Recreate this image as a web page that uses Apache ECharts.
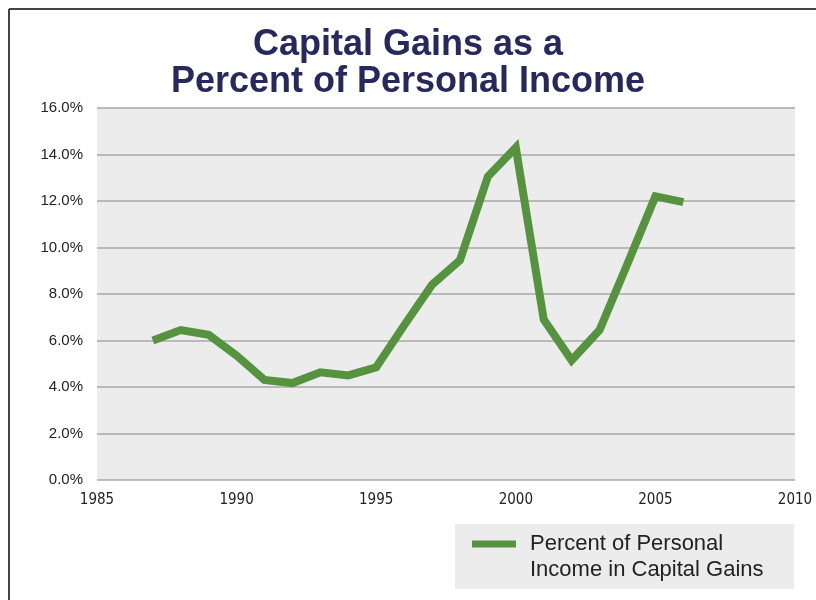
<!DOCTYPE html>
<html>
<head>
<meta charset="utf-8">
<script src="https://cdn.jsdelivr.net/npm/echarts@6/dist/echarts.min.js"></script>
<style>
  html, body { margin: 0; padding: 0; background: #fff; }
  #chart { width: 816px; height: 600px; }
</style>
</head>
<body>
<div id="chart"></div>
<script>
(function(){
	'use strict';

	// 数据
	var years = [1987, 1988, 1989, 1990, 1991, 1992, 1993, 1994, 1995, 1996,
	             1997, 1998, 1999, 2000, 2001, 2002, 2003, 2004, 2005, 2006];
	var gainsPct = [6.0, 6.45, 6.25, 5.35, 4.3, 4.17, 4.63, 4.5, 4.85, 6.65,
	                8.4, 9.45, 13.05, 14.3, 6.9, 5.15, 6.45, 9.3, 12.2, 11.95];
	var seriesName = 'Percent of Personal Income in Capital Gains';
	var legendLines = ['Percent of Personal', 'Income in Capital Gains'];
	var titleLines = ['Capital Gains as a', 'Percent of Personal Income'];

	var points = years.map(function(y, i){ return [y, gainsPct[i]]; });

	var myChart = echarts.init(document.getElementById('chart'));

	var option = {
		animation: false,
		backgroundColor: '#fff',
		title: {
			text: titleLines.join('\n'),
			left: 'center',
			top: 27,
			padding: 0,
			textStyle: {
				fontFamily: 'Liberation Sans, Arial, sans-serif',
				fontWeight: 'bold',
				fontSize: 36,
				lineHeight: 37,
				color: '#27295e'
			}
		},
		legend: {
			data: [{ name: seriesName, icon: 'rect' }],
			left: 472,
			top: 505,
			padding: 0,
			itemWidth: 44,
			itemHeight: 7,
			z: 10,
			// 空的第一行，让图标对齐第一行文字
			formatter: function(){ return '\n' + legendLines.join('\n'); },
			textStyle: {
				fontFamily: 'Liberation Sans, Arial, sans-serif',
				fontSize: 22,
				lineHeight: 26,
				color: '#222',
				padding: [0, 0, 0, 9]
			}
		},
		grid: {
			left: 97,
			right: 21,
			top: 108,
			bottom: 120,
			show: true,
			backgroundColor: '#ececec',
			borderWidth: 0
		},
		xAxis: {
			type: 'value',
			min: 1985,
			max: 2010,
			interval: 5,
			axisLine: { show: false },
			axisTick: { show: false },
			splitLine: { show: false },
			axisLabel: {
				margin: 13,
				fontFamily: 'Liberation Sans Narrow, DejaVu Sans Condensed, sans-serif',
				fontSize: 15,
				color: '#222',
				formatter: function(v){ return String(v); }
			}
		},
		yAxis: {
			type: 'value',
			min: 0,
			max: 16,
			interval: 2,
			axisLine: { show: false },
			axisTick: { show: false },
			splitLine: { lineStyle: { color: '#a8a8a8', width: 1.5 } },
			axisLabel: {
				margin: 14,
				fontFamily: 'Liberation Sans, Arial, sans-serif',
				fontSize: 15,
				color: '#222',
				formatter: function(v){ return v.toFixed(1) + '%'; }
			}
		},
		graphic: [
			{ type: 'rect', z: 1, shape: { x: 455, y: 524, width: 339, height: 65 }, style: { fill: '#ececec' } },
			{ type: 'line', z: 1, shape: { x1: 9, y1: 9, x2: 816, y2: 9 }, style: { stroke: '#444', lineWidth: 2 } },
			{ type: 'line', z: 1, shape: { x1: 9, y1: 9, x2: 9, y2: 600 }, style: { stroke: '#444', lineWidth: 2 } }
		],
		series: [
			{
				name: seriesName,
				type: 'line',
				data: points,
				symbol: 'none',
				color: '#55933f',
				lineStyle: { width: 8, color: '#55933f', join: 'miter', cap: 'butt' }
			}
		]
	};

	myChart.setOption(option);
}());
</script>
</body>
</html>
